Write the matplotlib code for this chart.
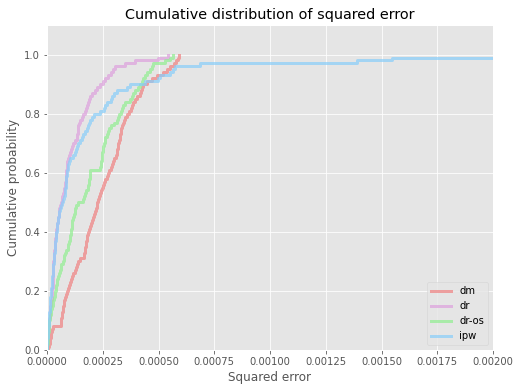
import numpy as np
import matplotlib
matplotlib.use('Agg')
import matplotlib.pyplot as plt

plt.style.use('ggplot')

# squared errors, in units of 1e-6 (100 runs per estimator)
dm = [5, 8, 12, 15, 18, 20, 22, 28, 62, 63, 64, 66, 67, 70, 72, 74, 78,
      82, 86, 90, 95, 100, 104, 108, 112, 118, 124, 130, 134, 138,
      150, 165, 168, 170, 172, 174, 176, 178, 181, 184,
      188, 192, 196, 200, 205, 210, 214, 218, 222, 226, 230,
      234, 238, 242, 245, 250, 256, 262, 268, 274, 280,
      286, 291, 296, 302, 310, 314, 316, 318, 320, 323,
      326, 328, 330, 333, 336, 339, 345, 352, 360,
      368, 375, 380, 387, 395, 405, 417, 422, 428, 432,
      450, 469, 495, 520, 540, 552, 570, 578, 586, 593]
dr = [1, 2, 3, 4, 5, 6, 7, 8, 9, 10, 11, 12, 13, 14, 15, 17, 19, 21, 22, 23,
      24, 25, 25, 26, 26, 27, 27, 28, 28, 29, 30, 31, 32, 33, 34, 35, 36, 37, 39, 40,
      42, 44, 46, 48, 50, 52, 54, 56, 60, 63, 66, 69, 72, 75, 77, 79, 81, 83, 85, 86,
      87, 88, 89, 91, 93, 98, 103, 108, 113, 118, 126, 133, 135, 137, 139,
      140, 145, 150, 156, 163, 170, 174, 178, 184, 190, 195, 202, 215, 226, 238,
      250, 260, 275, 285, 296, 305, 350, 395, 498, 543]
dr_os = [1, 2, 3, 4, 5, 6, 7, 8, 9, 10, 12, 14, 16, 19, 22, 25, 28, 33, 36, 38,
         40, 42, 44, 46, 48, 52, 58, 61, 65, 70, 74, 78, 82, 87, 92, 96, 99, 102, 104, 106,
         108, 110, 112, 114, 116, 120, 124, 126, 130, 140, 163, 166, 170, 176, 182,
         185, 187, 189, 191, 193, 195, 238, 241, 243, 245, 247, 248, 250, 252, 254,
         258, 262, 268, 274, 280, 285, 300, 315, 320, 325, 330, 335, 342, 350, 372,
         380, 387, 395, 410, 417, 425, 432, 440, 447, 462, 470, 477, 529, 552, 563]
ipw = [1, 1, 2, 2, 3, 4, 5, 6, 7, 8, 9, 10, 11, 12, 12, 13, 14, 15, 16, 18,
       20, 21, 22, 23, 24, 25, 26, 28, 29, 30, 31, 32, 33, 34, 36, 37, 38, 39, 40, 42,
       43, 44, 46, 48, 50, 52, 54, 57, 62, 68, 73, 76, 79, 81, 82, 83, 84, 85, 86, 88,
       90, 92, 96, 100, 103, 115, 126, 132, 136, 140, 148, 155, 163, 170, 180,
       185, 190, 195, 200, 210, 238, 255, 262, 268, 285, 290, 300, 313, 357, 372,
       439, 498, 507, 552, 565, 574, 686, 1389, 1546, 2350]

names = ['dm', 'dr', 'dr-os', 'ipw']
series = [dm, dr, dr_os, ipw]
colors = ['lightcoral', 'plum', 'lightgreen', 'lightskyblue']

fig = plt.figure(figsize=(521 / 72, 391 / 72), dpi=72)
ax = fig.add_axes([47 / 521, 1 - 350 / 391, 446 / 521, 325 / 391])

for name, vals, c in zip(names, series, colors):
    ax.ecdf(np.array(vals) * 1e-6, label=name, color=c, alpha=0.7, linewidth=3)

ax.set_xlim(0, 0.002)
ax.set_ylim(0, 1.1)
ax.set_xticks(np.arange(0, 0.00201, 0.00025))
ax.set_xticklabels(['%.5f' % t for t in np.arange(0, 0.00201, 0.00025)])
ax.set_yticks([0, 0.2, 0.4, 0.6, 0.8, 1.0])
ax.set_xlabel('Squared error')
ax.set_ylabel('Cumulative probability')
ax.set_title('Cumulative distribution of squared error')
ax.legend(loc='lower right')

plt.savefig('out.png', dpi=72)
